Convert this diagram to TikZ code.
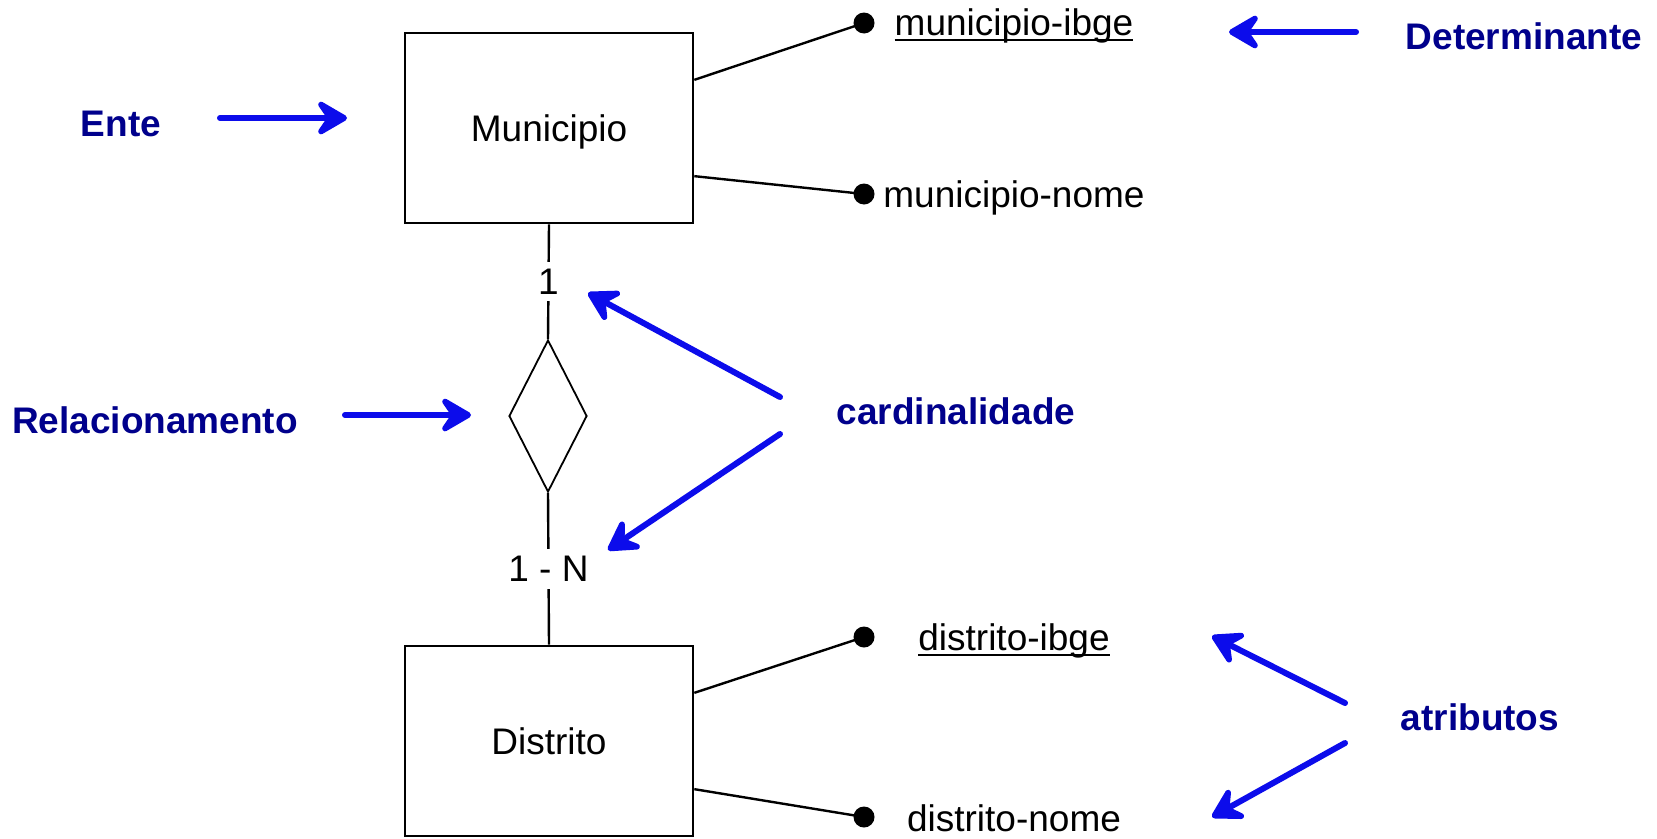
\documentclass[tikz,border=0pt]{standalone}
\usepackage{fontspec}
\setmainfont{Liberation Sans}
\usetikzlibrary{shapes.geometric,arrows.meta,calc}
\definecolor{navy}{RGB}{0,0,140}
\definecolor{arrowblue}{RGB}{12,12,235}
\begin{document}
\begin{tikzpicture}[x=1pt,y=-1pt,
  every node/.style={font=\fontsize{37}{44}\selectfont, inner sep=0pt},
  entity/.style={draw, line width=2.6pt, minimum width=288pt, minimum height=190pt, text depth=0pt},
  relation/.style={diamond, draw, line width=1.8pt, minimum width=78pt, minimum height=152pt},
  attrdot/.style={circle, fill=black, minimum size=21pt},
  link/.style={line width=2.4pt},
  card/.style={fill=white, inner sep=7pt},
  tag/.style={text=navy, font=\fontsize{37}{44}\selectfont\bfseries},
  callout/.style={draw=arrowblue, line width=6pt, line cap=round,
    -{Stealth[length=38pt,width=44pt,inset=15pt,round]}},
  keyline/.style={line width=2.2pt},
]
\useasboundingbox (0,0) rectangle (1657,838);
\fill[white] (0,0) rectangle (1657,838);

% entities and relationship
\node[entity] (mun) at (549,128) {Municipio};
\node[entity] (dis) at (549,741) {Distrito};
\node[relation] (rel) at (548,416) {};

\draw[link] (mun.south) -- node[card] (c1) {1} (rel.north);
\draw[link] (rel.south) -- node[card] (cn) {1 - N} (dis.north);

% attributes
\node[attrdot] (d1) at (864,23) {};
\node[attrdot] (d2) at (864,194) {};
\node[attrdot] (d3) at (864,637) {};
\node[attrdot] (d4) at (864,817) {};

\node[anchor=base] (a1) at (1014,35) {municipio-ibge};
\node[anchor=base] (a2) at (1014,207) {municipio-nome};
\node[anchor=base] (a3) at (1014,650) {distrito-ibge};
\node[anchor=base] (a4) at (1014,831) {distrito-nome};

\draw[keyline] ([yshift=-5pt]a1.base west) -- ([yshift=-5pt]a1.base east);
\draw[keyline] ([yshift=-5pt]a3.base west) -- ([yshift=-5pt]a3.base east);

\draw[link] ($(mun.north east)!0.5!(mun.east)$) -- (d1.center);
\draw[link] ($(mun.east)!0.5!(mun.south east)$) -- (d2.center);
\draw[link] ($(dis.north east)!0.5!(dis.east)$) -- (d3.center);
\draw[link] ($(dis.east)!0.5!(dis.south east)$) -- (d4.center);

% explanatory labels
\node[tag, anchor=base] (ente) at (121,136) {Ente};
\node[tag, anchor=base] (relac) at (155,433) {Relacionamento};
\node[tag, anchor=base] (determ) at (1524,49) {Determinante};
\node[tag, anchor=base] (cardin) at (956,424) {cardinalidade};
\node[tag, anchor=base] (atrib) at (1480,730) {atributos};

% pointer arrows
\coordinate (p1s) at (220,118);  \coordinate (p1e) at (347,118);
\coordinate (p2s) at (345,415);  \coordinate (p2e) at (471,415);
\coordinate (p3s) at (1356,32);  \coordinate (p3e) at (1229,32);
\coordinate (p4s) at (780,397);  \coordinate (p4e) at (588,293);
\coordinate (p5s) at (780,434);  \coordinate (p5e) at (608,550);
\coordinate (p6s) at (1345,703); \coordinate (p6e) at (1212,636);
\coordinate (p7s) at (1345,743); \coordinate (p7e) at (1212,817);

\draw[callout] (p1s) -- (p1e);
\draw[callout] (p2s) -- (p2e);
\draw[callout] (p3s) -- (p3e);
\draw[callout] (p4s) -- (p4e);
\draw[callout] (p5s) -- (p5e);
\draw[callout] (p6s) -- (p6e);
\draw[callout] (p7s) -- (p7e);
\end{tikzpicture}
\end{document}
